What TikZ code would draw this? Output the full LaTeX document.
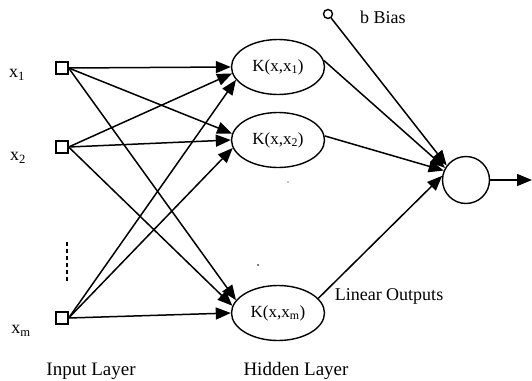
\documentclass[tikz,border=0pt]{standalone}
\usepackage{fontspec}
\setmainfont{Liberation Serif}
\usetikzlibrary{shapes.geometric,arrows.meta}
\tikzset{
  conn/.style={line width=1.5pt},
  arr/.style={conn,-{Triangle[length=15pt,width=12pt]}},
  inbox/.style={draw,line width=1.3pt,rectangle,minimum size=12pt,inner sep=0pt},
  kern/.style={draw,line width=1.4pt,ellipse,minimum width=93pt,minimum height=55pt,inner sep=0pt,font=\fontsize{17}{19}\selectfont},
  outc/.style={draw,line width=1.4pt,circle,minimum size=47pt,inner sep=0pt},
  biasc/.style={draw,line width=1.4pt,circle,minimum size=9pt,inner sep=0pt},
  lbl/.style={inner sep=0pt,font=\fontsize{18}{20}\selectfont},
  layer/.style={inner sep=0pt,anchor=base,font=\fontsize{19}{21}\selectfont},
}
\begin{document}
\begin{tikzpicture}[x=1pt,y=-1pt]
\useasboundingbox (0,0) rectangle (532,380);
% input squares
\node[inbox] (s1) at (62,68) {};
\node[inbox] (s2) at (62,147) {};
\node[inbox] (sm) at (62,318) {};
% input labels
\node[lbl] (l1) at (17,75) {x\textsubscript{1}};
\node[lbl] (l2) at (18,158) {x\textsubscript{2}};
\node[lbl] (lm) at (21,331) {x\textsubscript{m}};
% kernels
\node[kern] (e1) at (278,67) {K(x,x\textsubscript{1})};
\node[kern] (e2) at (278,140) {K(x,x\textsubscript{2})};
\node[kern] (e3) at (278,313) {K(x,x\textsubscript{m})};
% output
\node[outc] (o) at (466,180) {};
\node[biasc] (b) at (328,14) {};
\node[lbl,anchor=west] (bl) at (360,17) {b Bias};
\coordinate (oe) at (532,180);
% input to hidden
\draw[arr] (s1.east) -- (e1.180);
\draw[arr] (s2.east) -- (e1.188);
\draw[arr] (sm.east) -- (e1.197);
\draw[arr] (s1.east) -- (e2.172);
\draw[arr] (s2.east) -- (e2.180);
\draw[arr] (sm.east) -- (e2.190);
\draw[arr] (s1.east) -- (e3.163);
\draw[arr] (s2.east) -- (e3.171);
\draw[arr] (sm.east) -- (e3.180);
% hidden to output
\draw[arr] (b) -- (o.143);
\draw[arr] (e1.8) -- (o.150);
\draw[arr] (e2.5) -- (o.157);
\draw[arr] (e3.20) -- (o.170);
\draw[arr] (o.east) -- (oe);
% dashes and dots
\coordinate (d1) at (67,242);
\coordinate (d2) at (67,283);
\draw[line width=1.3pt,dash pattern=on 4pt off 3pt] (d1) -- (d2);
\fill (258,265) circle (0.9pt);
\fill (288,182) circle (0.7pt);
% texts
\node[lbl] (lo) at (389,296) {Linear Outputs};
\node[layer] (il) at (91,375) {Input Layer};
\node[layer] (hl) at (296,375) {Hidden Layer};
\end{tikzpicture}
\end{document}
